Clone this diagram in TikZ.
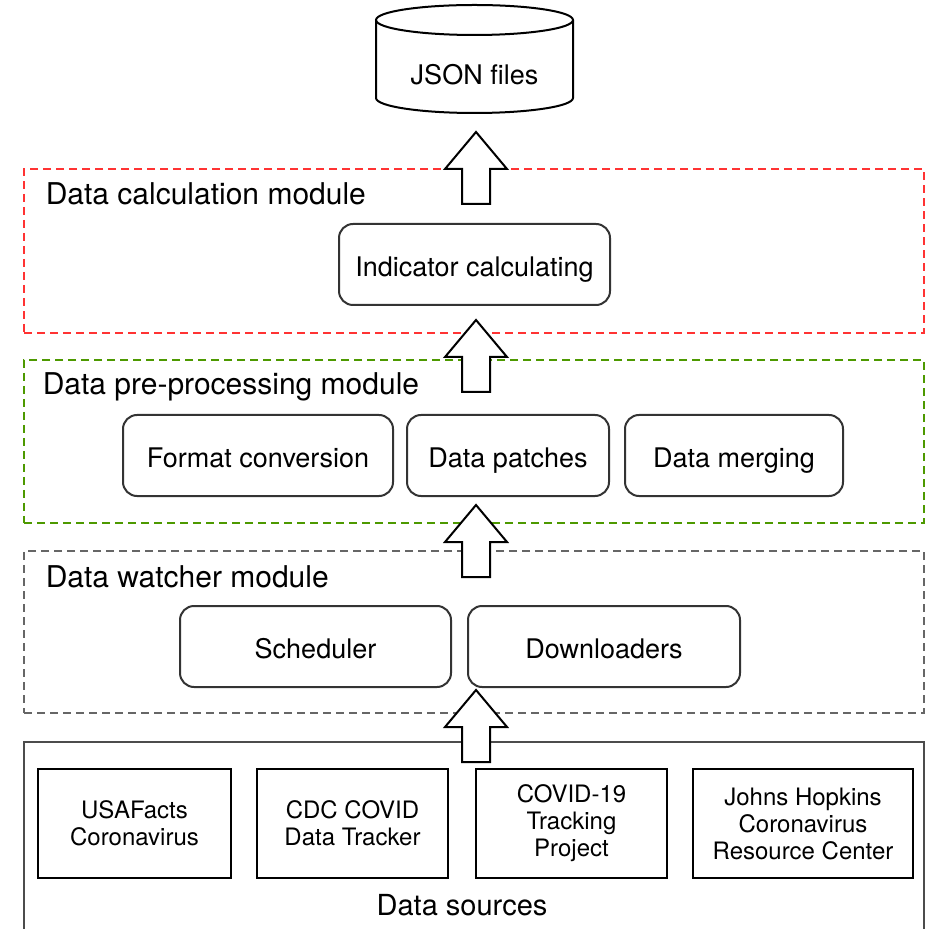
\documentclass[tikz,border=0pt]{standalone}
\usepackage{fontspec}
\setmainfont{TeX Gyre Heros}
\usepackage{xcolor}
\usepackage{tikz}
\tikzset{every picture/.style={line width=0.75pt}}

\definecolor{calcred}{RGB}{255,51,51}
\definecolor{prepgreen}{RGB}{77,153,0}
\definecolor{watchgray}{RGB}{102,102,102}

\tikzset{
  modframe/.style={draw, dash pattern=on 4pt off 2.5pt, line width=1pt,
    inner sep=0pt, outer sep=0pt, minimum width=450pt},
  modlabel/.style={anchor=base west, inner sep=0pt,
    font=\fontsize{15}{18}\selectfont},
  task/.style={draw=black!80, line width=1pt, rounded corners=7pt,
    inner sep=0pt, outer sep=0pt, minimum height=40.5pt,
    text height=12pt, text depth=0pt,
    font=\fontsize{13.5}{16}\selectfont},
  source/.style={draw=black, line width=1.2pt, inner sep=0pt, outer sep=0pt,
    minimum height=54.5pt, align=center,
    font=\fontsize{12}{13.5}\selectfont},
  bigarrow/.style={draw=black, line width=1pt, fill=white, line join=miter}
}

\begin{document}
\begin{tikzpicture}[x=0.5pt, y=-0.5pt]
\useasboundingbox (0,0) rectangle (928,929);

% JSON files
\node[inner sep=0pt, text height=12pt, text depth=0pt,
  font=\fontsize{13.5}{16}\selectfont] (json) at (474.5,73) {JSON files};
\draw[line width=1pt] (376,20) -- (376,98)
  arc[start angle=180, end angle=360, x radius=49.25pt, y radius=7.5pt] -- (573,20);
\draw[line width=1pt] (474.5,20) ellipse [x radius=49.25pt, y radius=7.5pt];

% Data calculation module
\node[modframe, draw=calcred, minimum height=82pt] (calcmod) at (474,251) {};
\node[modlabel] (calclabel) at (45,205) {Data calculation module};
\node[task, minimum width=135.5pt] (indicator) at (474.5,264.5) {Indicator calculating};

% Data pre-processing module
\node[modframe, draw=prepgreen, minimum height=81.5pt] (prepmod) at (474,441.5) {};
\node[modlabel] (preplabel) at (42,395) {Data pre-processing module};
\node[task, minimum width=135pt] (format) at (258,455.5) {Format conversion};
\node[task, minimum width=101pt] (patches) at (508,455.5) {Data patches};
\node[task, minimum width=109pt] (merging) at (734,455.5) {Data merging};

% Data watcher module
\node[modframe, draw=watchgray, minimum height=81pt] (watchmod) at (474,632) {};
\node[modlabel] (watchlabel) at (45,587) {Data watcher module};
\node[task, minimum width=135.5pt] (scheduler) at (315.5,646.5) {Scheduler};
\node[task, minimum width=136pt] (downloaders) at (604,646.5) {Downloaders};

% Data sources
\draw[draw=black!70, line width=1pt] (24,929) -- (24,742) -- (924,742) -- (924,929);
\node[source, minimum width=96.5pt] (usafacts) at (134.5,823.5) {USAFacts\\Coronavirus};
\node[source, minimum width=95.5pt] (cdc) at (352.5,823.5) {CDC COVID\\Data Tracker};
\node[source, minimum width=95.5pt] (tracking) at (571.5,823.5) {COVID-19\\Tracking\\Project};
\node[source, minimum width=110pt] (jhu) at (803,823.5) {Johns Hopkins\\Coronavirus\\Resource Center};
\node[inner sep=0pt, font=\fontsize{14.5}{17}\selectfont] (sources) at (462,905) {Data sources};

% block arrows
\foreach \n/\ty in {1/132,2/320,3/505,4/690}{
  \coordinate (tip\n) at (476,\ty);
  \draw[bigarrow] (tip\n) -- ++(31,37) -- ++(-17,0) -- ++(0,35) -- ++(-28,0)
    -- ++(0,-35) -- ++(-17,0) -- cycle;
}
\end{tikzpicture}
\end{document}
